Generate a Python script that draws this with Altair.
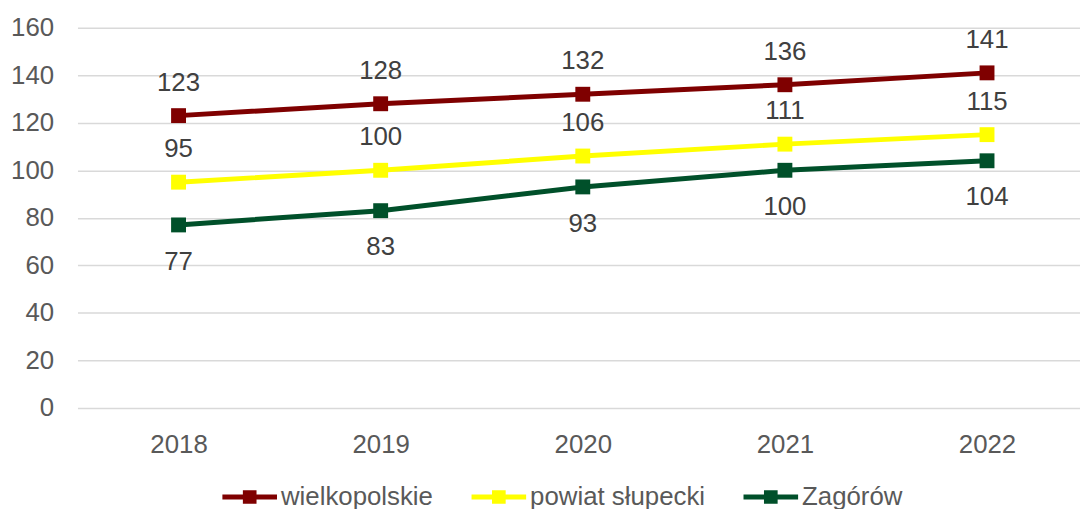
import altair as alt
import pandas as pd

years = [2018, 2019, 2020, 2021, 2022]
series_names = ["wielkopolskie", "powiat słupecki", "Zagórów"]
wielkopolskie = [123, 128, 132, 136, 141]
powiat = [95, 100, 106, 111, 115]
zagorow = [77, 83, 93, 100, 104]
colors = ["#7F0000", "#FFFF00", "#00502A"]

rows = []
for name, vals in zip(series_names, [wielkopolskie, powiat, zagorow]):
    for y, v in zip(years, vals):
        rows.append({"year": y, "series": name, "value": v})
df = pd.DataFrame(rows)

FONT = "Liberation Sans"
x = alt.X("year:Q", title=None,
          scale=alt.Scale(domain=[2017.5, 2022.46], nice=False, zero=False),
          axis=alt.Axis(values=years, format="d", labelAngle=0, ticks=False, domain=False,
                        labelFontSize=26, labelColor="#595959", labelPadding=24,
                        grid=False, labelFlush=False))
y = alt.Y("value:Q", title=None, scale=alt.Scale(domain=[0, 160], nice=False),
          axis=alt.Axis(values=list(range(0, 161, 20)), ticks=False, domain=False,
                        labelFontSize=26, labelColor="#595959", labelPadding=24,
                        gridColor="#D9D9D9", gridWidth=1.5))
cscale = alt.Scale(domain=series_names, range=colors)

legend = alt.Legend(title=None, orient="none", direction="horizontal",
                    legendX=146, legendY=445,
                    symbolType="M-1,-0.09H1V0.09H-1Z M-0.25,-0.25H0.25V0.25H-0.25Z",
                    symbolSize=3025, symbolStrokeWidth=0, symbolOpacity=1,
                    labelFontSize=26, labelColor="#595959", labelFont=FONT,
                    columnPadding=38, labelOffset=4, labelLimit=400, padding=0)
color = alt.Color("series:N", scale=cscale, sort=series_names, legend=legend)

base = alt.Chart(df)
lines = base.mark_line(strokeWidth=5).encode(
    x=x, y=y, color=color, detail="series:N")

points = base.mark_point(shape="square", filled=True, size=225, opacity=1, strokeWidth=0).encode(
    x=x, y=y, color=color)

def labels(name, dy):
    return base.transform_filter(alt.datum.series == name).mark_text(
        fontSize=26, color="#404040", dy=dy, font=FONT).encode(
        x=x, y=y, text="value:Q")

chart = alt.layer(
    lines, points,
    labels("wielkopolskie", -33), labels("powiat słupecki", -33), labels("Zagórów", 37)
).properties(
    width=1010, height=383, autosize="none",
    padding={"left": 70, "top": 18, "right": 0, "bottom": 100}
).configure(font=FONT).configure_view(stroke=None)

chart.save("out.html", embed_options={"renderer": "svg", "actions": False})
